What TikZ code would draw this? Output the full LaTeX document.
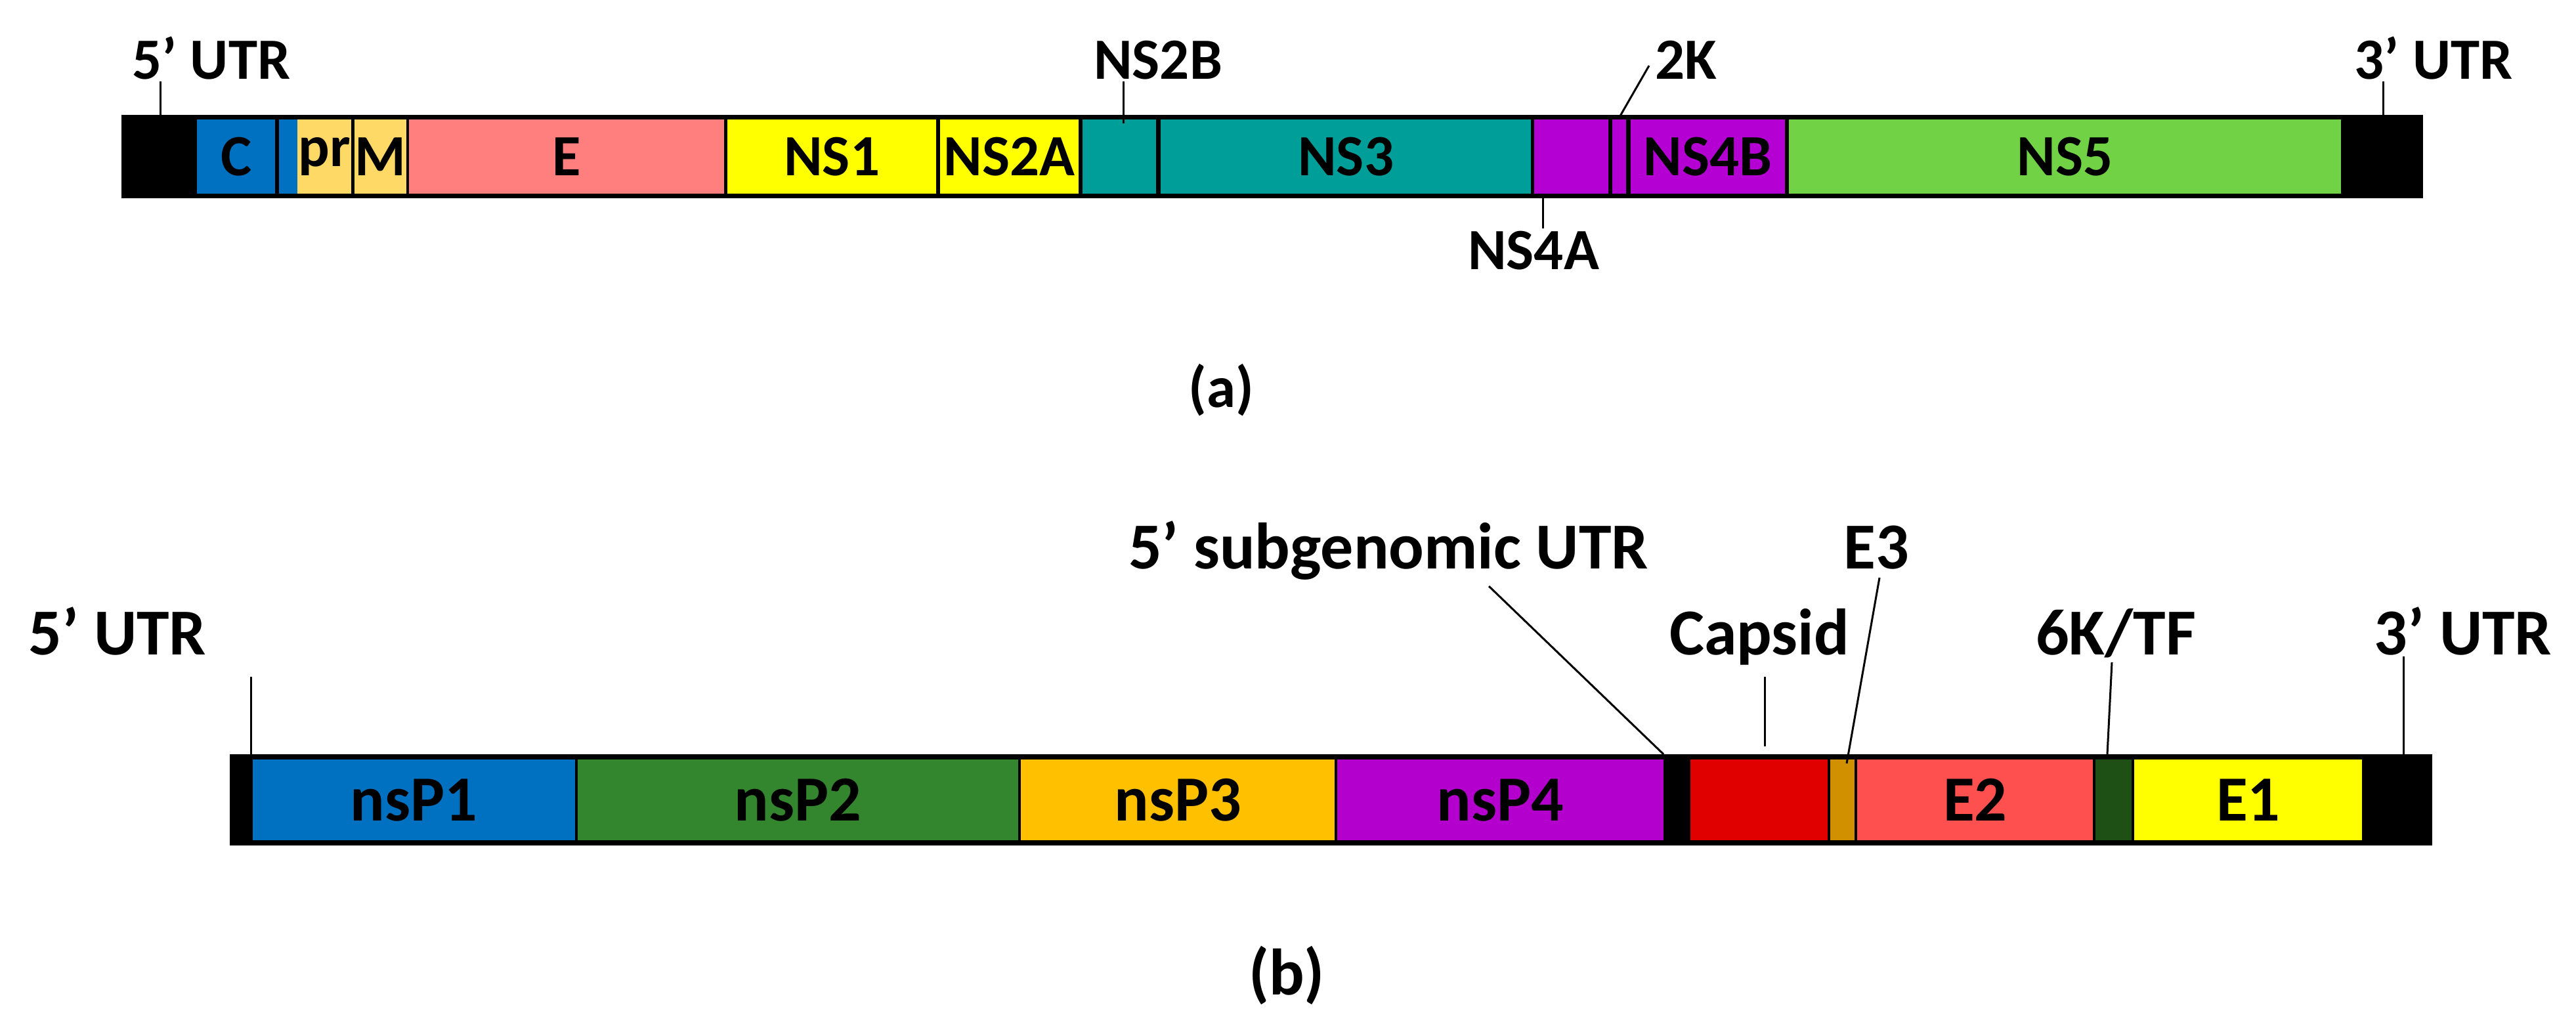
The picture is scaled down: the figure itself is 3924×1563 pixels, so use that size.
\documentclass[tikz,border=0pt]{standalone}
\usepackage{fontspec}
\setmainfont{Carlito}
\begin{document}
\begin{tikzpicture}[x=1pt,y=-1pt,
  lab/.style={font=\bfseries\fontsize{89}{89}\selectfont,inner sep=0,anchor=base},
  labb/.style={font=\bfseries\fontsize{100}{100}\selectfont,inner sep=0,anchor=base},
  tick/.style={line width=3pt},
  seg/.style={inner sep=0,anchor=north west,font=\bfseries\fontsize{89}{89}\selectfont},
  segb/.style={inner sep=0,anchor=north west,font=\bfseries\fontsize{98}{98}\selectfont}]
\useasboundingbox (0,0) rectangle (3924,1563);
\newcommand{\sg}[8]{\node[#8,fill=#6,minimum width={(#3-#2)*1pt},minimum height={(#5-#4)*1pt}] (#1) at (#2,#4) {#7};}
% ---- (a)
\fill (185,175) rectangle (3691,302);
\sg{C}{300}{419}{182}{295}{blue!0!black!0!white}{}{seg}
\sg{C}{300}{419}{182}{295}{cyan!0}{}{seg}
\definecolor{cb}{RGB}{0,112,192}\definecolor{cy}{RGB}{255,217,102}
\definecolor{ce}{RGB}{255,127,127}\definecolor{cyl}{RGB}{255,255,0}
\definecolor{ct}{RGB}{0,158,153}\definecolor{cp}{RGB}{180,0,210}
\definecolor{cg}{RGB}{112,210,68}
\sg{C}{300}{419}{182}{295}{cb}{C}{seg}
\sg{Cs}{425}{453}{182}{295}{cb}{}{seg}
\sg{pr}{453}{535}{182}{295}{cy}{pr}{seg}
\sg{M}{540}{619}{182}{295}{cy}{M}{seg}
\sg{E}{623}{1103}{182}{295}{ce}{E}{seg}
\sg{NSa}{1108}{1426}{182}{295}{cyl}{NS1}{seg}
\sg{NSb}{1432}{1643}{182}{295}{cyl}{NS2A}{seg}
\sg{NSc}{1649}{1761}{182}{295}{ct}{}{seg}
\sg{NSd}{1768}{2332}{182}{295}{ct}{NS3}{seg}
\sg{NSe}{2337}{2450}{182}{295}{cp}{}{seg}
\sg{K}{2456}{2477}{182}{295}{cp}{}{seg}
\sg{NSf}{2484}{2719}{182}{295}{cp}{NS4B}{seg}
\sg{NSg}{2725}{3566}{182}{295}{cg}{NS5}{seg}
\node[lab] (u5a) at (322,120) {5' UTR};
\node[lab] (n2b) at (1764,120) {NS2B};
\node[lab] (k2) at (2568,120) {2K};
\node[lab] (u3a) at (3707,120) {3' UTR};
\node[lab] (n4a) at (2336,410) {NS4A};
\node[lab] (pa) at (1860,620) {(a)};
\coordinate (t1) at (244,175); \coordinate (t1s) at (244,124);
\draw[tick] (t1s) -- (t1);
\coordinate (t2s) at (1711,124); \coordinate (t2) at (1711,188);
\draw[tick] (t2s) -- (t2);
\coordinate (t3s) at (2512,100); \coordinate (t3) at (2466,180);
\draw[tick] (t3s) -- (t3);
\coordinate (t4s) at (3630,124); \coordinate (t4) at (3630,175);
\draw[tick] (t4s) -- (t4);
\coordinate (t5s) at (2350,348); \coordinate (t5) at (2350,302);
\draw[tick] (t5s) -- (t5);
% ---- (b)
\definecolor{d1}{RGB}{0,112,192}\definecolor{d2}{RGB}{51,134,45}
\definecolor{d3}{RGB}{255,192,0}\definecolor{d4}{RGB}{180,0,204}
\definecolor{d5}{RGB}{224,0,0}\definecolor{d6}{RGB}{208,144,0}
\definecolor{d7}{RGB}{255,80,80}\definecolor{d8}{RGB}{30,80,22}
\fill (350,1149) rectangle (3705,1288);
\sg{P1}{385}{876}{1157}{1280}{d1}{nsP1}{segb}
\sg{P2}{880}{1551}{1157}{1280}{d2}{nsP2}{segb}
\sg{P3}{1555}{2033}{1157}{1280}{d3}{nsP3}{segb}
\sg{P4}{2037}{2534}{1157}{1280}{d4}{nsP4}{segb}
\sg{Cap}{2575}{2784}{1157}{1280}{d5}{}{segb}
\sg{E3}{2788}{2825}{1157}{1280}{d6}{}{segb}
\sg{E2}{2829}{3188}{1157}{1280}{d7}{E2}{segb}
\sg{K6}{3192}{3247}{1157}{1280}{d8}{}{segb}
\sg{E1}{3251}{3598}{1157}{1280}{cyl}{E1}{segb}
\node[labb] (u5b) at (179,997) {5' UTR};
\node[labb] (sub) at (2115,866) {5' subgenomic UTR};
\node[labb] (cap) at (2680,997) {Capsid};
\node[labb] (e3) at (2858,866) {E3};
\node[labb] (tf) at (3223,997) {6K/TF};
\node[labb] (u3b) at (3752,997) {3' UTR};
\node[labb] (pb) at (1960,1515) {(b)};
\coordinate (b1s) at (382,1031); \coordinate (b1) at (382,1149);
\draw[tick] (b1s) -- (b1);
\coordinate (b2s) at (2268,893); \coordinate (b2) at (2534,1149);
\draw[tick] (b2s) -- (b2);
\coordinate (b3s) at (2688,1031); \coordinate (b3) at (2688,1137);
\draw[tick] (b3s) -- (b3);
\coordinate (b4s) at (2863,880); \coordinate (b4) at (2813,1163);
\draw[tick] (b4s) -- (b4);
\coordinate (b5s) at (3217,1009); \coordinate (b5) at (3210,1149);
\draw[tick] (b5s) -- (b5);
\coordinate (b6s) at (3661,1000); \coordinate (b6) at (3661,1149);
\draw[tick] (b6s) -- (b6);
\end{tikzpicture}
\end{document}
